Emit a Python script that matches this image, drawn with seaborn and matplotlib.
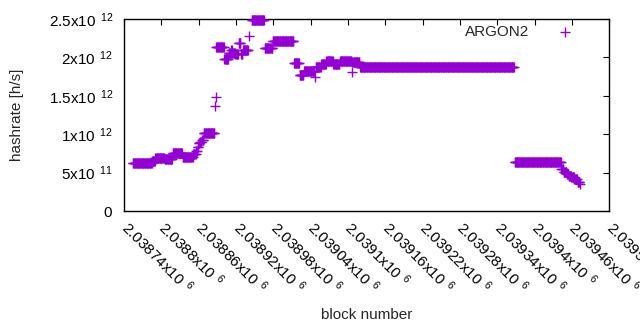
import numpy as np
import pandas as pd
import seaborn as sns
import matplotlib
matplotlib.use('Agg')
import matplotlib.pyplot as plt

# runs of constant hashrate: first block, last block, value (x10^12 h/s)
run_start = [2038754, 2038785, 2038790, 2038805, 2038818, 2038834, 2038851, 2038856,
             2038858, 2038860, 2038862, 2038865, 2038868, 2038886, 2038887, 2038888,
             2038901, 2038908, 2038912, 2038914, 2038919, 2038924, 2038928, 2038931,
             2038940, 2038945, 2038966, 2038979, 2039013, 2039022, 2039029, 2039047,
             2039048, 2039057, 2039065, 2039076, 2039087, 2039106, 2039107, 2039119,
             2039368, 2039443, 2039447, 2039452, 2039455, 2039459, 2039464, 2039469,
             2039473]
run_end = [2038784, 2038789, 2038804, 2038817, 2038833, 2038850, 2038855, 2038857,
           2038859, 2038861, 2038864, 2038867, 2038885, 2038886, 2038887, 2038900,
           2038907, 2038911, 2038913, 2038918, 2038923, 2038927, 2038930, 2038939,
           2038940, 2038965, 2038978, 2039012, 2039021, 2039028, 2039046, 2039047,
           2039056, 2039064, 2039075, 2039086, 2039105, 2039106, 2039118, 2039367,
           2039442, 2039446, 2039451, 2039454, 2039458, 2039463, 2039468, 2039472,
           2039473]
run_value = [0.622, 0.652, 0.695, 0.682, 0.752, 0.708, 0.743, 0.786,
             0.838, 0.880, 0.905, 0.930, 1.020, 1.370, 1.490, 2.134,
             1.980, 2.060, 2.100, 2.060, 2.040, 2.186, 2.040, 2.090,
             2.280, 2.490, 2.120, 2.216, 1.925, 1.770, 1.825, 1.740,
             1.870, 1.917, 1.956, 1.910, 1.956, 1.810, 1.940, 1.874,
             0.635, 0.544, 0.508, 0.478, 0.456, 0.440, 0.413, 0.382,
             0.348]

x_ticks = [2038740 + 60 * i for i in range(14)]
x_labels = ['2.03874', '2.0388', '2.03886', '2.03892', '2.03898', '2.03904', '2.0391',
            '2.03916', '2.03922', '2.03928', '2.03934', '2.0394', '2.03946', '2.03952']
y_ticks = [0, 0.5e12, 1e12, 1.5e12, 2e12, 2.5e12]
y_labels = ['0', '5x10^{\\enspace11}', '1x10^{\\enspace12}', '1.5x10^{\\enspace12}',
            '2x10^{\\enspace12}', '2.5x10^{\\enspace12}']

blocks = np.concatenate([np.arange(s, e + 1) for s, e in zip(run_start, run_end)])
rates = np.concatenate([np.full(e - s + 1, v) for s, e, v in zip(run_start, run_end, run_value)]) * 1e12
df = pd.DataFrame({'block': blocks, 'hashrate': rates})

sns.set_style('white')
plt.rcParams['font.family'] = ['Liberation Sans', 'DejaVu Sans']
plt.rcParams['mathtext.default'] = 'regular'
plt.rcParams['font.size'] = 11

fig = plt.figure(figsize=(6.4, 3.3), dpi=100)
ax = fig.add_axes([0.194, 0.3606, 0.758, 0.5818])

purple = '#9400D3'
sns.scatterplot(data=df, x='block', y='hashrate', marker='+', s=45, linewidth=1.0,
                color=purple, label='ARGON2', ax=ax, clip_on=False, zorder=3)

ax.set_xlim(2038740, 2039520)
ax.set_ylim(0, 2.5e12)
ax.set_xticks(x_ticks)
ax.set_xticklabels(['$' + t + 'x10^{\\enspace6}$' for t in x_labels],
                   rotation=-45, ha='left', va='center', rotation_mode='anchor')
ax.set_yticks(y_ticks)
ax.set_yticklabels(['$' + t + '$' for t in y_labels])
ax.tick_params(direction='in', length=4, width=0.8, top=True, right=True,
               labelsize=11, colors='black')
ax.tick_params(axis='x', pad=10)
ax.tick_params(axis='y', pad=8)
for sp in ax.spines.values():
    sp.set_color('black')
    sp.set_linewidth(1.0)

ax.set_xlabel('block number', fontsize=11)
ax.set_ylabel('hashrate [h/s]', fontsize=11)
ax.xaxis.set_label_coords(0.5, -0.505)
ax.yaxis.set_label_coords(-0.207, 0.5)

ax.legend(loc='center right', bbox_to_anchor=(580.7 / 640, 1 - 32.3 / 330),
          bbox_transform=fig.transFigure, frameon=False, markerfirst=False,
          handlelength=2, handletextpad=1.4, borderpad=0, borderaxespad=0,
          fontsize=11)

fig.savefig('out.png', dpi=100)
